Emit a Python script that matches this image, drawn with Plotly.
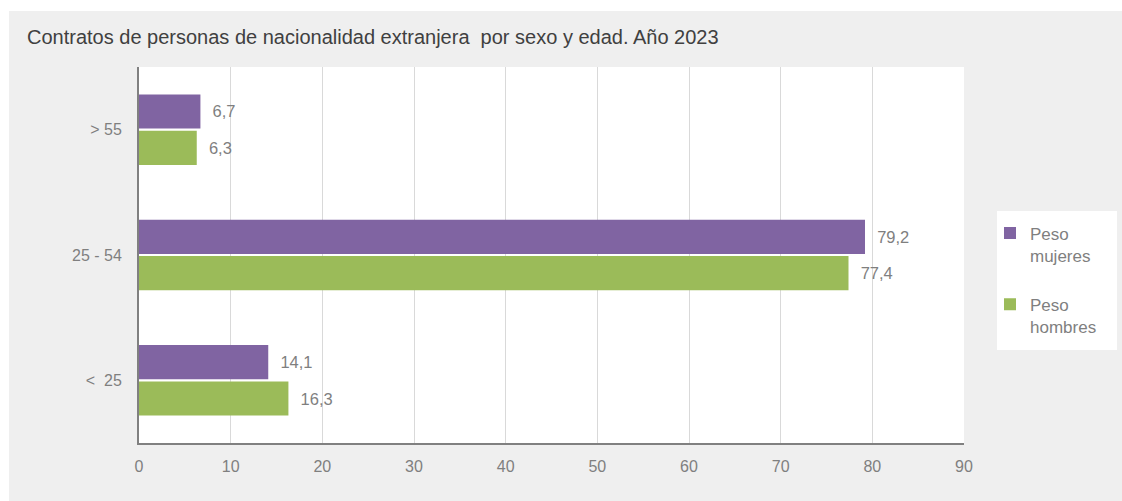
import plotly.graph_objects as go

# data
edades = ["<\u00a0 25", "25 - 54", "> 55"]
peso_mujeres = [14.1, 79.2, 6.7]
peso_hombres = [16.3, 77.4, 6.3]
x_ticks = [0, 10, 20, 30, 40, 50, 60, 70, 80, 90]

PURPLE = "#8064A2"
GREEN = "#9BBB59"
GRAY_TXT = "#7f7f7f"
BG = "#efefef"

W, H = 1122, 501
L, R, T, B = 139, 1122 - 964, 67, 501 - 443
pw, ph = W - L - R, H - T - B


def px_x(p):
    # page pixel -> paper x
    return (p - L) / pw


def px_y(p):
    # page pixel -> paper y
    return (H - B - p) / ph


fig = go.Figure()

fig.add_trace(
    go.Bar(
        y=edades,
        x=peso_hombres,
        orientation="h",
        name="Peso<br>hombres",
        marker=dict(color=GREEN, line=dict(width=0)),
        texttemplate="  %{x:.1f}",
        textposition="outside",
        cliponaxis=False,
        textfont=dict(color=GRAY_TXT, size=16.5),
        legendgroup="h",
        legendrank=2,
    )
)

fig.add_trace(
    go.Bar(
        y=edades,
        x=peso_mujeres,
        orientation="h",
        name="Peso<br>mujeres",
        marker=dict(color=PURPLE, line=dict(width=0)),
        texttemplate="  %{x:.1f}",
        textposition="outside",
        cliponaxis=False,
        textfont=dict(color=GRAY_TXT, size=16.5),
        legendgroup="m",
        legendrank=1,
    )
)

fig.update_layout(
    width=W,
    height=H,
    margin=dict(l=L, r=R, t=T, b=B),
    paper_bgcolor=BG,
    plot_bgcolor="white",
    font=dict(family="Liberation Sans, Arial, sans-serif", color=GRAY_TXT, size=16),
    separators=",.",
    barmode="group",
    bargap=0.42,
    bargroupgap=0.06,
    title=dict(
        text="Contratos de personas de nacionalidad extranjera  por sexo y edad. Año 2023",
        x=27 / W,
        xanchor="left",
        y=1 - 37 / H,
        yanchor="middle",
        font=dict(size=20, color="#404040"),
    ),
    legend=dict(
        traceorder="grouped",
        tracegroupgap=24,
        x=px_x(990),
        xanchor="left",
        y=px_y(280),
        yanchor="middle",
        bgcolor="rgba(0,0,0,0)",
        font=dict(size=17, color=GRAY_TXT),
        valign="top",
    ),
    xaxis=dict(
        range=[0, 90],
        tickvals=x_ticks,
        showgrid=True,
        gridcolor="#d9d9d9",
        gridwidth=1,
        showline=True,
        linecolor="#808080",
        linewidth=2,
        zeroline=False,
        ticks="",
        ticklabelstandoff=8,
        tickfont=dict(size=16, color=GRAY_TXT),
    ),
    yaxis=dict(
        showgrid=False,
        showline=True,
        linecolor="#808080",
        linewidth=2,
        ticks="",
        ticklabelstandoff=12,
        tickfont=dict(size=16, color=GRAY_TXT),
    ),
    shapes=[
        # thin white strips at the top and left edge
        dict(type="rect", xref="paper", yref="paper",
             x0=px_x(0), x1=px_x(W), y0=px_y(11), y1=px_y(0),
             fillcolor="white", line=dict(width=0), layer="below"),
        dict(type="rect", xref="paper", yref="paper",
             x0=px_x(0), x1=px_x(9), y0=px_y(H), y1=px_y(0),
             fillcolor="white", line=dict(width=0), layer="below"),
        # legend box
        dict(type="rect", xref="paper", yref="paper",
             x0=px_x(997), x1=px_x(1117), y0=px_y(350), y1=px_y(211),
             fillcolor="white", line=dict(width=0), layer="below"),
    ],
)

fig.write_html(
    "out.html",
    config={"displayModeBar": False},
    post_script="document.body.style.margin='0';document.body.style.overflow='hidden';",
)
